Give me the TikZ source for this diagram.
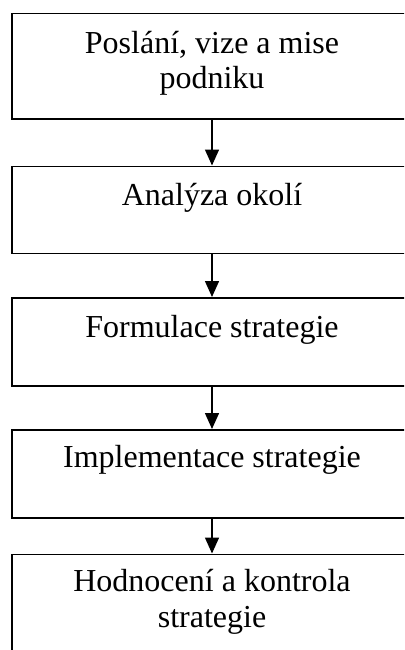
\documentclass[tikz,border=0pt]{standalone}
\usepackage{fontspec}
\setmainfont{Liberation Serif}
\usetikzlibrary{arrows.meta}
\begin{document}
\begin{tikzpicture}[x=1pt,y=1pt,
  stepbox/.style={draw=black, line width=1.5pt, rectangle, minimum width=400pt, inner sep=0pt, anchor=north},
  lbl/.style={font=\fontsize{32}{35.7}\selectfont, align=center, inner sep=0pt, anchor=base},
  flow/.style={line width=1.5pt, -{Triangle[width=14pt,length=16pt]}}]
\useasboundingbox (0,0) rectangle (404,-650);
\clip (0,0) rectangle (404,-650);
\node[stepbox, minimum height=105.5pt] (b1) at (212,-13) {};
\node[stepbox, minimum height=87pt] (b2) at (212,-165.5) {};
\node[stepbox, minimum height=88pt] (b3) at (212,-297) {};
\node[stepbox, minimum height=88pt] (b4) at (212,-429) {};
\node[stepbox, minimum height=150pt] (b5) at (212,-553.5) {};
\node[lbl] (t1) at (212,-89) {Poslání, vize a mise\\podniku};
\node[lbl] (t2) at (212,-205) {Analýza okolí};
\node[lbl] (t3) at (212,-337) {Formulace strategie};
\node[lbl] (t4) at (212,-467) {Implementace strategie};
\node[lbl] (t5) at (212,-627) {Hodnocení a kontrola\\strategie};
\draw[flow] (b1.south) -- (b2.north);
\draw[flow] (b2.south) -- (b3.north);
\draw[flow] (b3.south) -- (b4.north);
\draw[flow] (b4.south) -- (b5.north);
\end{tikzpicture}
\end{document}
